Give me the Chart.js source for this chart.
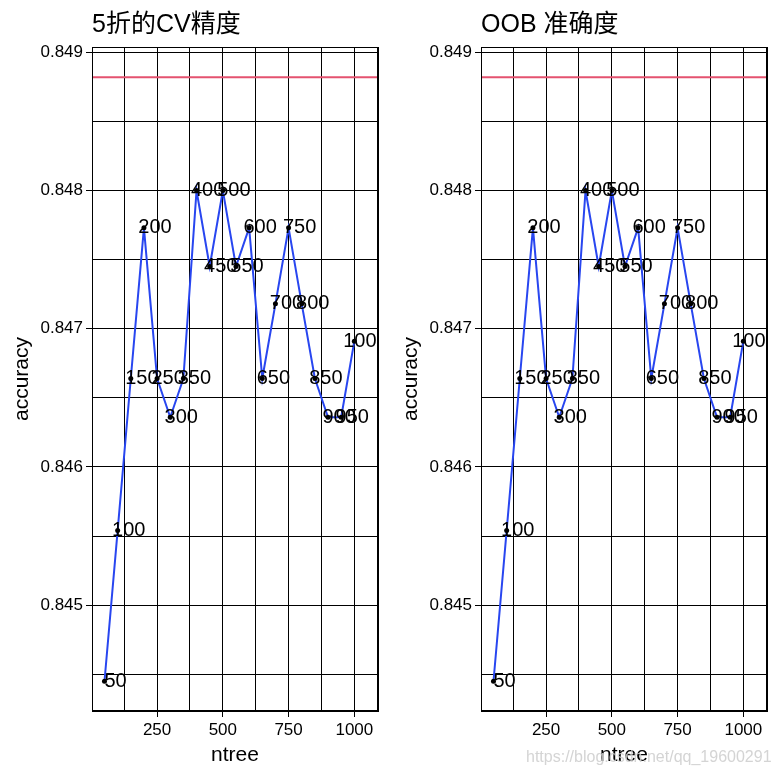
<!DOCTYPE html>
<html>
<head>
<meta charset="utf-8">
<script src="https://cdn.jsdelivr.net/npm/chart.js@4.4.1/dist/chart.umd.min.js"></script>
<style>
html,body{margin:0;padding:0;background:#fff;overflow:hidden;width:778px;height:777px;}
.panel{position:absolute;top:0;width:389px;height:777px;}
#wm{position:absolute;left:526px;top:749px;font-family:'Liberation Sans',Arial,sans-serif;font-size:16px;line-height:16px;color:rgba(205,205,205,0.85);white-space:nowrap;}
</style>
</head>
<body>
<div class="panel" style="left:0"><canvas id="c1" width="389" height="777"></canvas></div>
<div class="panel" style="left:389px"><canvas id="c2" width="389" height="777"></canvas></div>
<div id="wm">https://blog.csdn.net/qq_19600291</div>
<script>
// ---- data ----
const ntree = [50,100,150,200,250,300,350,400,450,500,550,600,650,700,750,800,850,900,950,1000];
const cvAccuracy  = [0.84445,0.84554,0.84664,0.84773,0.84664,0.84636,0.84664,0.84800,0.84745,0.84800,
                     0.84745,0.84773,0.84664,0.84718,0.84773,0.84718,0.84664,0.84636,0.84636,0.84691];
const oobAccuracy = [0.84445,0.84554,0.84664,0.84773,0.84664,0.84636,0.84664,0.84800,0.84745,0.84800,
                     0.84745,0.84773,0.84664,0.84718,0.84773,0.84718,0.84664,0.84636,0.84636,0.84691];
const bestAccuracy = [0.84882];
const panelTitles = ['5折的CV精度', 'OOB 准确度'];
const xTickLabels = [250, 500, 750, 1000];
const xGridValues = [125, 250, 375, 500, 625, 750, 875, 1000];
const yTickLabels = [0.845, 0.846, 0.847, 0.848, 0.849];
const yGridValues = [0.8445, 0.845, 0.8455, 0.846, 0.8465, 0.847, 0.8475, 0.848, 0.8485, 0.849];
const xRange = [2.5, 1090];
const yRange = [0.844235, 0.849038];

// ---- style ----
const FONT = "'Liberation Sans', Arial, 'Noto Sans CJK SC', sans-serif";
const LABEL_NUDGE = 42;
Chart.defaults.font.family = FONT;

const isIn = (arr, v) => arr.some(t => Math.abs(t - v) < 1e-9);

const framePlugin = {
  id: 'frame',
  afterDraw(chart) {
    const ctx = chart.ctx, a = chart.chartArea;
    ctx.save();
    ctx.strokeStyle = '#000';
    ctx.lineWidth = 1;
    ctx.beginPath();
    ctx.moveTo(a.left + 0.5, a.bottom); ctx.lineTo(a.left + 0.5, a.top);
    ctx.moveTo(a.left, a.top + 0.5); ctx.lineTo(a.right, a.top + 0.5);
    ctx.stroke();
    ctx.lineWidth = 2;
    ctx.beginPath();
    ctx.moveTo(a.right, a.top); ctx.lineTo(a.right, a.bottom + 1);
    ctx.moveTo(a.left, a.bottom); ctx.lineTo(a.right + 1, a.bottom);
    ctx.stroke();
    // panel title
    ctx.fillStyle = '#000';
    ctx.font = '25px ' + FONT;
    ctx.textAlign = 'left';
    ctx.textBaseline = 'alphabetic';
    ctx.fillText(chart.options.plugins.panelTitle.text, a.left, 32);
    ctx.restore();
  }
};

const labelPlugin = {
  id: 'pointLabels',
  afterDatasetsDraw(chart) {
    const ctx = chart.ctx, a = chart.chartArea;
    const xs = chart.scales.x, ys = chart.scales.y;
    const ds = chart.data.datasets[1];
    ctx.save();
    ctx.beginPath();
    ctx.rect(a.left, a.top, a.right - a.left, a.bottom - a.top);
    ctx.clip();
    ctx.fillStyle = '#000';
    ctx.font = '20px ' + FONT;
    ctx.textAlign = 'center';
    ctx.textBaseline = 'middle';
    ds.data.forEach((p, i) => {
      ctx.fillText(String(ntree[i]), xs.getPixelForValue(p.x + LABEL_NUDGE), ys.getPixelForValue(p.y));
    });
    ctx.restore();
  }
};

function makeChart(id, title, acc) {
  const pts = ntree.map((n, i) => ({x: n, y: acc[i]}));
  return new Chart(document.getElementById(id), {
    type: 'line',
    data: {
      datasets: [
        {
          data: [{x: xRange[0], y: bestAccuracy[0]}, {x: xRange[1], y: bestAccuracy[0]}],
          borderColor: '#e4526f', borderWidth: 2, pointRadius: 0, order: 2
        },
        {
          data: pts,
          borderColor: '#2846f0', borderWidth: 2, tension: 0,
          pointRadius: 2.5, pointBackgroundColor: '#000', pointBorderColor: '#000', pointBorderWidth: 0,
          order: 1
        }
      ]
    },
    options: {
      responsive: false, animation: false, devicePixelRatio: 1,
      layout: {padding: {left: 0, top: 47, right: 11, bottom: 0}},
      plugins: {
        legend: {display: false}, tooltip: {enabled: false}, title: {display: false},
        panelTitle: {text: title}
      },
      scales: {
        x: {
          type: 'linear', min: xRange[0], max: xRange[1],
          afterBuildTicks: s => { s.ticks = xGridValues.map(v => ({value: v})); },
          afterFit: s => { s.height = 66; },
          ticks: {
            autoSkip: false, maxRotation: 0, padding: 3, color: '#000',
            font: {size: 17, family: FONT},
            callback: v => isIn(xTickLabels, v) ? String(v) : ''
          },
          grid: {
            color: '#000', lineWidth: 1, tickLength: 6,
            tickColor: c => (c.tick && isIn(xTickLabels, c.tick.value)) ? '#000' : 'rgba(0,0,0,0)'
          },
          border: {display: false},
          title: {display: true, text: 'ntree', color: '#000', font: {size: 21, family: FONT}, padding: {top: 0, bottom: 9}}
        },
        y: {
          type: 'linear', min: yRange[0], max: yRange[1],
          afterBuildTicks: s => { s.ticks = yGridValues.map(v => ({value: v})); },
          afterFit: s => { s.width = 92; },
          ticks: {
            autoSkip: false, padding: 3, color: '#000',
            font: {size: 17, family: FONT},
            callback: v => isIn(yTickLabels, v) ? v.toFixed(3) : ''
          },
          grid: {
            color: '#000', lineWidth: 1, tickLength: 6,
            tickColor: c => (c.tick && isIn(yTickLabels, c.tick.value)) ? '#000' : 'rgba(0,0,0,0)'
          },
          border: {display: false},
          title: {display: true, text: 'accuracy', color: '#000', font: {size: 21, family: FONT}, padding: {top: 10, bottom: 0}}
        }
      }
    },
    plugins: [labelPlugin, framePlugin]
  });
}

makeChart('c1', panelTitles[0], cvAccuracy);
makeChart('c2', panelTitles[1], oobAccuracy);
</script>
</body>
</html>
